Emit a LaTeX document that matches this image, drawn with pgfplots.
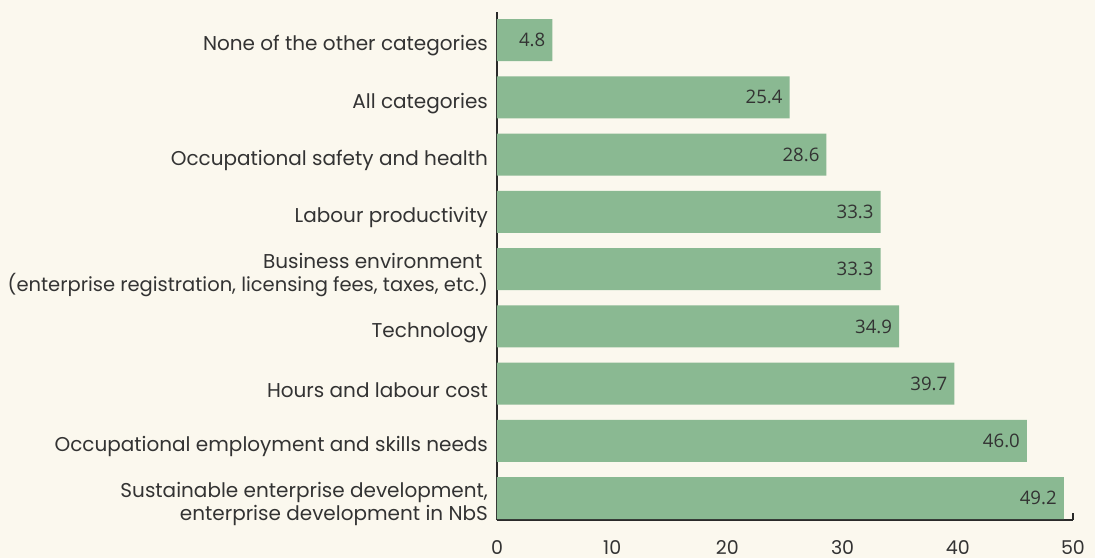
\documentclass[border=0pt]{standalone}
\usepackage{pgfplots}
\pgfplotsset{compat=1.18}
\usepackage{fontspec}
\setmainfont{Poppins}
\newfontfamily\valfont{Open Sans}
\definecolor{bg}{HTML}{FBF8EE}
\definecolor{barc}{HTML}{8AB992}
\definecolor{txt}{HTML}{333333}
\definecolor{axc}{HTML}{2A2A2A}
\begin{document}
\begin{tikzpicture}
\fill[bg] (-248.5pt,-19pt) rectangle (299pt,260pt);
\useasboundingbox (-248.5pt,-19pt) rectangle (299pt,260pt);
\begin{axis}[
  at={(0pt,0pt)}, anchor=south west,
  scale only axis, width=288pt, height=254pt,
  xbar, bar width=21pt,
  xmin=0, xmax=50, ymin=-0.38, ymax=8.49,
  axis x line*=bottom, axis y line*=left,
  axis line style={-, draw=axc, line width=1pt},
  xtick={0,10,20,30,40,50},
  ytick={0,...,8},
  yticklabels={
    {Sustainable enterprise development,\\enterprise development in NbS},
    {Occupational employment and skills needs},
    {Hours and labour cost},
    {Technology},
    {Business environment\hspace*{0.28em}\\{\fontsize{9.75}{11.5}\selectfont(enterprise registration, licensing fees, taxes, etc.)}},
    {Labour productivity},
    {Occupational safety and health},
    {All categories},
    {None of the other categories}},
  tick align=inside,
  major tick length=3.5pt,
  x tick style={draw=axc, line width=1pt},
  y tick style={draw=none},
  /pgf/number format/assume math mode=true,
  xticklabel style={font=\fontsize{9.5}{11}\selectfont, text=txt, yshift=-6.5pt},
  yticklabel style={font=\fontsize{10}{11.5}\selectfont, text=txt, align=right, xshift=-1pt, yshift=-3pt},
  point meta=x,
  nodes near coords={\pgfmathprintnumber[fixed,fixed zerofill,precision=1,assume math mode=true]{\pgfplotspointmeta}},
  every node near coord/.append style={anchor=east, font=\valfont\fontsize{9.3}{10}\selectfont, text=txt},
]
\addplot[fill=barc, draw=none] coordinates {
(49.2,0) (46.0,1) (39.7,2) (34.9,3) (33.3,4) (33.3,5) (28.6,6) (25.4,7) (4.8,8)
};
\end{axis}
\end{tikzpicture}
\end{document}
